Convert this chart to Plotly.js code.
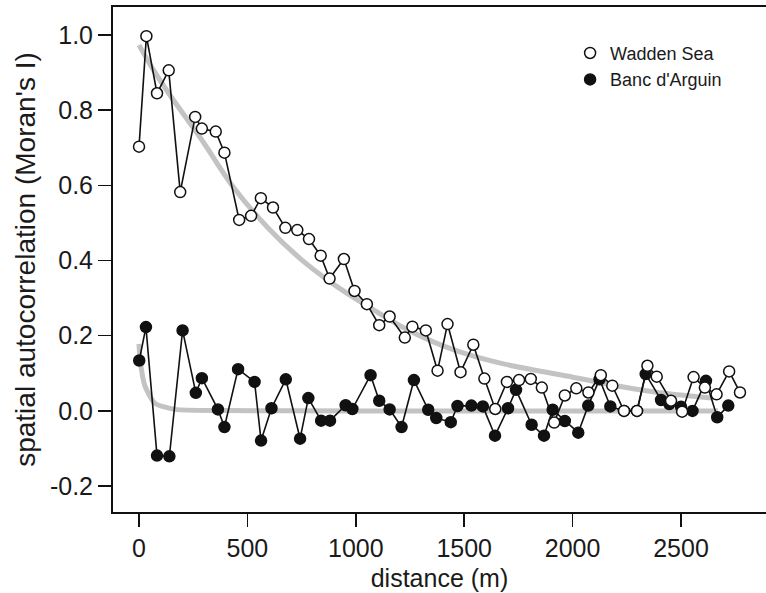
<!DOCTYPE html>
<html>
<head>
<meta charset="utf-8">
<script src="https://cdn.plot.ly/plotly-3.0.1.min.js"></script>
<style>
html,body{margin:0;padding:0;background:#fff;}
#chart{width:766px;height:593px;}
</style>
</head>
<body>
<div id="chart"></div>
<script>
// Wadden Sea: distance (m) and Moran's I
var waddenDist = [0,34,83,137,190,259,290,354,394,462,517,562,618,675,730,784,838,879,945,994,
  1051,1108,1156,1226,1261,1323,1377,1423,1483,1542,1593,1643,1697,1753,1807,1858,1915,1964,2017,2073,
  2130,2183,2237,2297,2345,2388,2454,2505,2558,2610,2664,2722,2772];
var waddenI = [0.703,0.997,0.845,0.906,0.582,0.782,0.751,0.743,0.687,0.508,0.519,0.566,0.541,0.487,0.481,0.457,0.413,0.352,0.404,0.319,
  0.284,0.228,0.251,0.195,0.224,0.214,0.107,0.231,0.103,0.176,0.086,0.005,0.077,0.082,0.085,0.062,-0.031,0.041,0.060,0.049,
  0.095,0.067,0.000,0.000,0.120,0.091,0.027,-0.002,0.090,0.062,0.044,0.105,0.049];

// Banc d'Arguin: distance (m) and Moran's I
var arguinDist = [1,32,83,140,201,262,290,364,394,457,533,563,611,677,743,781,840,881,953,984,
  1068,1108,1156,1211,1268,1334,1371,1438,1469,1533,1586,1642,1702,1739,1811,1868,1908,1964,2026,2072,
  2124,2174,2237,2297,2337,2408,2446,2500,2553,2615,2667,2718];
var arguinI = [0.134,0.223,-0.119,-0.121,0.214,0.048,0.087,0.004,-0.043,0.111,0.077,-0.079,0.007,0.084,-0.074,0.034,-0.026,-0.026,0.015,0.005,
  0.095,0.027,0.004,-0.043,0.082,0.003,-0.019,-0.030,0.013,0.014,0.012,-0.066,0.007,0.056,-0.037,-0.066,0.003,-0.027,-0.058,0.014,
  0.084,0.012,0.000,0.000,0.098,0.029,0.018,0.011,0.000,0.080,-0.017,0.014];

// Fitted curves (grey)
var waddenFitDist = [0,55,132,286,439,593,746,900,1053,1206,1360,1513,1667,1820,1974,2127,2281,2435,2604,2650];
var waddenFitI = [0.973,0.918,0.849,0.724,0.592,0.488,0.404,0.336,0.279,0.226,0.183,0.151,0.127,0.109,0.093,0.075,0.059,0.046,0.036,0.034];
var arguinFitDist = [0,5,28,74,166,400,1000,1600,2200,2670];
var arguinFitI = [0.178,0.136,0.065,0.020,0.004,0.001,0.000,0.000,0.000,0.000];

var xTicks = [0,500,1000,1500,2000,2500];
var yTicks = [-0.2,0.0,0.2,0.4,0.6,0.8,1.0];
var yTickText = ['-0.2','0.0','0.2','0.4','0.6','0.8','1.0'];
var legendNames = ['Wadden Sea', "Banc d'Arguin"];

var FONT = '"Liberation Sans Narrow", "Arial Narrow", "Liberation Sans", Arial, sans-serif';
var grey = '#c3c3c3';

var traces = [
  {x: waddenFitDist, y: waddenFitI, mode: 'lines', line: {color: grey, width: 5, shape: 'spline', smoothing: 1}, showlegend: false, hoverinfo: 'skip'},
  {x: arguinFitDist, y: arguinFitI, mode: 'lines', line: {color: grey, width: 5, shape: 'spline', smoothing: 0.6}, showlegend: false, hoverinfo: 'skip'},
  {x: arguinDist, y: arguinI, mode: 'lines+markers', line: {color: '#111', width: 1.6},
   marker: {symbol: 'circle', size: 11, color: '#111', line: {color: '#111', width: 1.5}}, showlegend: false},
  {x: waddenDist, y: waddenI, mode: 'lines+markers', line: {color: '#111', width: 1.6},
   marker: {symbol: 'circle', size: 11, color: '#fff', line: {color: '#111', width: 1.5}}, showlegend: false},
  {x: [null], y: [null], mode: 'markers', name: legendNames[0],
   marker: {symbol: 'circle', size: 11, color: '#fff', line: {color: '#111', width: 1.5}}},
  {x: [null], y: [null], mode: 'markers', name: legendNames[1],
   marker: {symbol: 'circle', size: 11, color: '#111', line: {color: '#111', width: 1.5}}}
];

var layout = {
  width: 766, height: 593,
  margin: {l: 113, r: 0, t: 7, b: 81},
  paper_bgcolor: '#fff', plot_bgcolor: '#fff',
  font: {family: FONT, color: '#1a1a1a', size: 24},
  showlegend: true,
  legend: {x: 0.700, y: 0.945, xanchor: 'left', yanchor: 'top', bgcolor: 'rgba(0,0,0,0)',
           font: {family: FONT, size: 18, color: '#1a1a1a'}, tracegroupgap: 0, itemwidth: 30},
  xaxis: {
    range: [-120, 2892], tickvals: xTicks, ticktext: xTicks.map(String),
    showgrid: false, zeroline: false, showline: true, mirror: true, linecolor: '#111', linewidth: 2,
    ticks: 'outside', ticklen: 13, tickwidth: 1.5, tickcolor: '#111',
    tickfont: {family: FONT, size: 25, color: '#1a1a1a'},
    title: {text: 'distance (m)', font: {family: FONT, size: 25, color: '#1a1a1a'}, standoff: 8}
  },
  yaxis: {
    range: [-0.269, 1.0745], tickvals: yTicks, ticktext: yTickText,
    showgrid: false, zeroline: false, showline: true, mirror: false, linecolor: '#111', linewidth: 2,
    ticks: 'outside', ticklen: 13, tickwidth: 1.5, tickcolor: '#111',
    tickfont: {family: FONT, size: 25, color: '#1a1a1a'},
    title: {text: "spatial autocorrelation (Moran's I)", font: {family: FONT, size: 28, color: '#1a1a1a'}, standoff: 6}
  }
};

Plotly.newPlot('chart', traces, layout, {staticPlot: true, displayModeBar: false});
</script>
</body>
</html>
